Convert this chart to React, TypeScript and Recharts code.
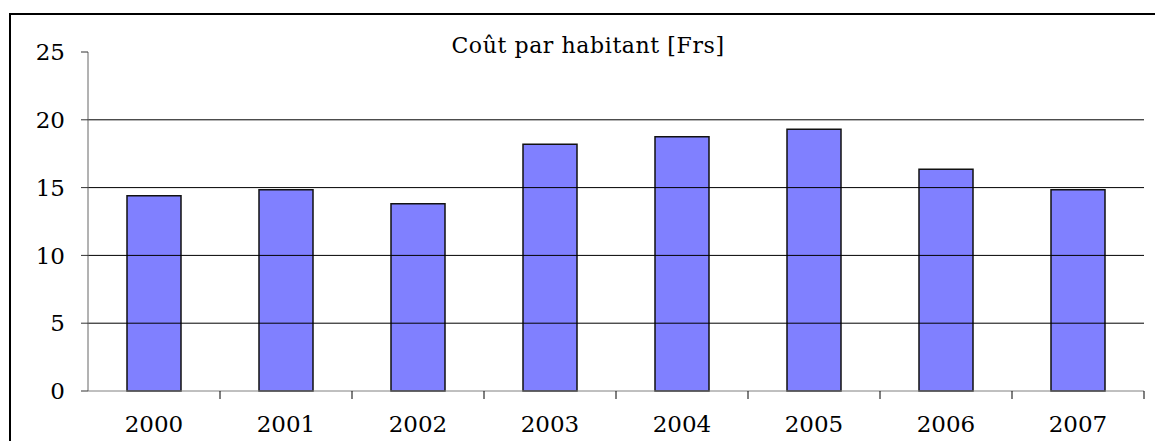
import React from "react";
import { Bar, BarChart, ReferenceLine, XAxis, YAxis } from "recharts";

const years = ["2000", "2001", "2002", "2003", "2004", "2005", "2006", "2007"];
const costPerHead = [14.4, 14.85, 13.8, 18.2, 18.75, 19.3, 16.35, 14.85];
const yTicks = [0, 5, 10, 15, 20, 25];
const gridValues = [5, 10, 15, 20];
const title = "Coût par habitant [Frs]";

const data = years.map((year, i) => ({ year, cost: costPerHead[i] }));

const font = "'DejaVu Serif', 'Liberation Serif', serif";

const W = 1155;
const H = 441;
const margin = { top: 52, right: 11, left: 28, bottom: 0 };
const yAxisWidth = 60;
// half a category band, so the separator ticks sit between the years
const halfBand = (W - margin.left - margin.right - yAxisWidth) / years.length / 2;

export default function App() {
  return (
    <div
      style={{
        position: "absolute",
        left: 0,
        top: 0,
        width: W,
        height: H,
        overflow: "hidden",
        background: "#fff",
      }}
    >
      <div
        style={{
          position: "absolute",
          left: 9,
          top: 13,
          width: 1170,
          height: 460,
          border: "2px solid #000",
          boxSizing: "border-box",
        }}
      />
      <BarChart
        width={W}
        height={H}
        data={data}
        margin={margin}
        style={{ position: "absolute", left: 0, top: 0 }}
      >
        {/* axis line + separator ticks between the years */}
        <XAxis
          xAxisId={0}
          dataKey="year"
          height={1}
          padding={{ left: halfBand, right: -halfBand }}
          stroke="#808080"
          tickSize={8}
          tickLine={{ stroke: "#000" }}
          tickFormatter={() => ""}
        />
        {/* year labels */}
        <XAxis
          xAxisId={1}
          dataKey="year"
          height={49}
          axisLine={false}
          tickLine={false}
          tickSize={0}
          tickMargin={24}
          tick={{ fill: "#000", fontSize: 23, fontFamily: font }}
        />
        <YAxis
          width={yAxisWidth}
          domain={[0, 25]}
          ticks={yTicks}
          tickSize={7}
          tickMargin={16}
          stroke="#666"
          tickLine={{ stroke: "#333" }}
          tick={{ fill: "#000", fontSize: 23, fontFamily: font }}
        />
        {gridValues.map((v) => (
          <ReferenceLine key={v} xAxisId={1} y={v} stroke="#000" strokeWidth={1} />
        ))}
        <Bar
          xAxisId={1}
          dataKey="cost"
          barSize={54}
          fill="#8080FF"
          stroke="#111"
          strokeWidth={1.5}
          isAnimationActive={false}
        />
        <text
          x={588}
          y={53}
          textAnchor="middle"
          fontSize={22}
          letterSpacing={0.6}
          fontFamily={font}
          fill="#000"
        >
          {title}
        </text>
      </BarChart>
    </div>
  );
}
